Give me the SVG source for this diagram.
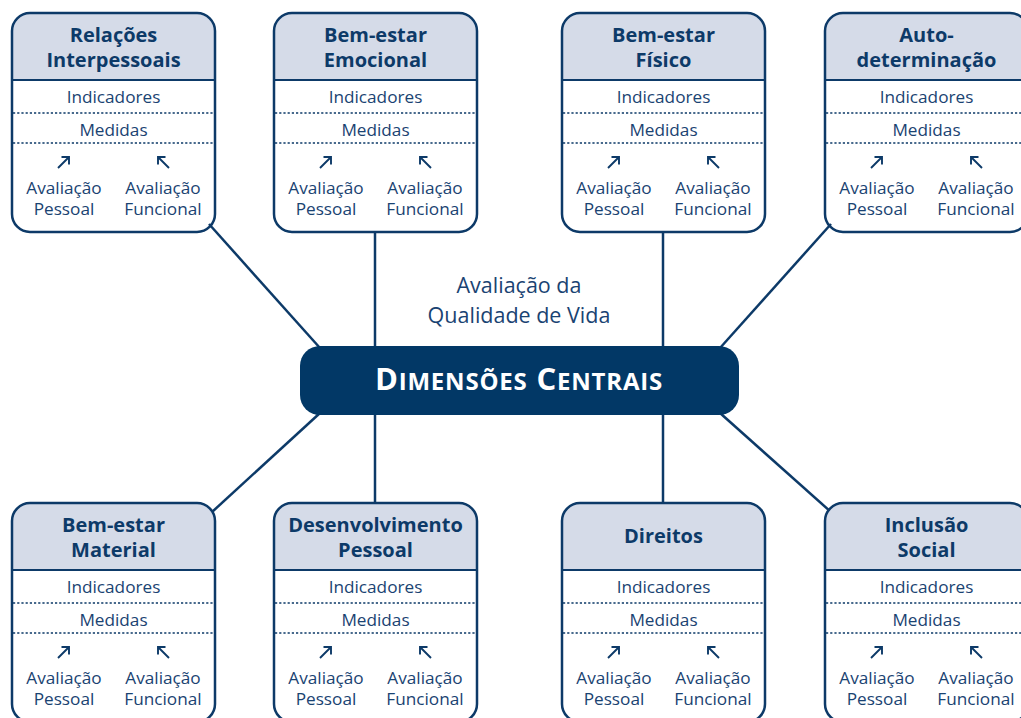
<svg xmlns="http://www.w3.org/2000/svg" width="1021" height="718" viewBox="0 0 1021 718">
<defs>
<style>
.box{fill:#fff;stroke:#0d3a68;stroke-width:2.5}
.hdr{fill:#d5dbe8}
.sep{stroke:#0d3a68;stroke-width:2}
.dot{stroke:#0d3a68;stroke-width:1.3;stroke-dasharray:2.2 2}
.ttl{font-family:"Open Sans","Noto Sans",sans-serif;font-weight:700;font-size:20px;fill:#0d3a68;text-anchor:middle}
.txt{font-family:"Open Sans","Noto Sans",sans-serif;font-size:17.2px;fill:#1a4372;text-anchor:middle}
.arr{fill:none;stroke:#0d3a68;stroke-width:1.9}
.con{stroke:#0d3a68;stroke-width:2.5;fill:none}
</style>
<g id="body">
<path class="hdr" d="M0,67 V18 A18,18 0 0 1 18,0 H185 A18,18 0 0 1 203,18 V67 Z"/>
<rect class="box" x="0" y="0" width="203" height="219" rx="18" style="fill:none"/>
<line class="sep" x1="0" y1="67" x2="203" y2="67"/>
<line class="dot" x1="1" y1="100" x2="202" y2="100"/>
<line class="dot" x1="1" y1="130" x2="202" y2="130"/>
<text class="txt" x="101.5" y="90">Indicadores</text>
<text class="txt" x="101.5" y="123">Medidas</text>
<path class="arr" d="M46,155 L57,144 M49.5,144 H57 V151.5"/>
<path class="arr" d="M157,155 L146,144 M153.5,144 H146 V151.5"/>
<text class="txt" x="52" y="181">Avaliação</text>
<text class="txt" x="52" y="202">Pessoal</text>
<text class="txt" x="151" y="181">Avaliação</text>
<text class="txt" x="151" y="202">Funcional</text>
</g>
</defs>
<rect width="1021" height="718" fill="#fff"/>
<g id="connectors">
<line class="con" x1="209" y1="224" x2="320" y2="348"/>
<line class="con" x1="375" y1="232" x2="375" y2="346"/>
<line class="con" x1="663" y1="232" x2="663" y2="346"/>
<line class="con" x1="831" y1="224" x2="720" y2="348"/>
<line class="con" x1="320" y1="413" x2="212" y2="512"/>
<line class="con" x1="375" y1="415" x2="375" y2="503"/>
<line class="con" x1="663" y1="415" x2="663" y2="503"/>
<line class="con" x1="720" y1="413" x2="831" y2="512"/>
</g>
<g id="center">
<text class="txt" x="519" y="293" style="font-size:21.5px">Avaliação da</text>
<text class="txt" x="519" y="323" style="font-size:21.5px">Qualidade de Vida</text>
<rect x="300" y="346" width="439" height="69" rx="20" fill="#023866"/>
<text x="519" y="390" text-anchor="middle" font-family="'Open Sans','Noto Sans',sans-serif" font-weight="700" fill="#fff" font-size="31" letter-spacing="0.8">D<tspan font-size="24">IMENSÕES</tspan> C<tspan font-size="24">ENTRAIS</tspan></text>
</g>
<g id="n1" transform="translate(12,13)"><use href="#body"/><text class="ttl" x="101.5" y="29">Relações</text><text class="ttl" x="101.5" y="54">Interpessoais</text></g>
<g id="n2" transform="translate(274,13)"><use href="#body"/><text class="ttl" x="101.5" y="29">Bem-estar</text><text class="ttl" x="101.5" y="54">Emocional</text></g>
<g id="n3" transform="translate(562,13)"><use href="#body"/><text class="ttl" x="101.5" y="29">Bem-estar</text><text class="ttl" x="101.5" y="54">Físico</text></g>
<g id="n4" transform="translate(825,13)"><use href="#body"/><text class="ttl" x="101.5" y="29">Auto-</text><text class="ttl" x="101.5" y="54">determinação</text></g>
<g id="n5" transform="translate(12,503)"><use href="#body"/><text class="ttl" x="101.5" y="29">Bem-estar</text><text class="ttl" x="101.5" y="54">Material</text></g>
<g id="n6" transform="translate(274,503)"><use href="#body"/><text class="ttl" x="101.5" y="29">Desenvolvimento</text><text class="ttl" x="101.5" y="54">Pessoal</text></g>
<g id="n7" transform="translate(562,503)"><use href="#body"/><text class="ttl" x="101.5" y="40">Direitos</text></g>
<g id="n8" transform="translate(825,503)"><use href="#body"/><text class="ttl" x="101.5" y="29">Inclusão</text><text class="ttl" x="101.5" y="54">Social</text></g>
</svg>
